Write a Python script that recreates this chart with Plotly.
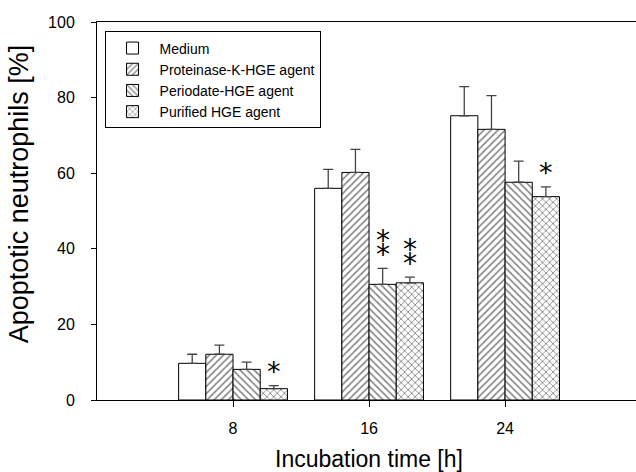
import plotly.graph_objects as go

times = [8, 16, 24]
tick_labels = ["8", "16", "24"]
series_names = ["Medium", "Proteinase-K-HGE agent", "Periodate-HGE agent", "Purified HGE agent"]
medium = [9.7, 56.0, 75.2]
proteinase = [12.1, 60.2, 71.6]
periodate = [8.1, 30.6, 57.6]
purified = [3.0, 31.0, 53.8]
medium_err = [2.4, 5.0, 7.7]
proteinase_err = [2.4, 6.1, 8.9]
periodate_err = [1.9, 4.2, 5.6]
purified_err = [0.8, 1.5, 2.6]
patterns = ["", "/", "\\", "x"]

# significance markers: (time, series index, label)
sig_time = [8, 16, 16, 24]
sig_series = [3, 2, 3, 3]
sig_label = ["*", "⁑", "⁑", "*"]

values = [medium, proteinase, periodate, purified]
errors = [medium_err, proteinase_err, periodate_err, purified_err]

FONT = "Liberation Sans, Arial, Helvetica"
STAR_FONT = "DejaVu Sans"

fig = go.Figure()
for name, v, e, p in zip(series_names, values, errors, patterns):
    fig.add_trace(go.Bar(
        x=times, y=v, name=name,
        marker=dict(color="white", line=dict(color="black", width=1),
                    pattern=dict(shape=p, fgcolor="black", bgcolor="white", size=5, solidity=0.3)),
        error_y=dict(type="data", symmetric=False, array=e, arrayminus=[0]*len(e),
                     color="#444", thickness=1.3, width=5),
    ))

# asterisk annotations placed above the error bars
group_w = 8 * 0.8
bar_w = group_w / 4
for t, si, lab in zip(sig_time, sig_series, sig_label):
    idx = times.index(t)
    xpos = t - group_w / 2 + bar_w * (si + 0.5)
    top = values[si][idx] + errors[si][idx]
    single = lab == "*"
    fig.add_annotation(x=xpos, y=top, yshift=14 if single else 22, text=lab,
                       showarrow=False, yanchor="middle",
                       font=dict(size=27 if single else 28, color="black", family=STAR_FONT))

# axis titles
fig.add_annotation(xref="paper", yref="paper", x=0.5046, y=-0.156,
                   text="Incubation time [h]", showarrow=False,
                   xanchor="center", yanchor="middle",
                   font=dict(size=23, color="black", family=FONT))
fig.add_annotation(xref="paper", yref="paper", x=-0.144, y=0.545,
                   text="Apoptotic neutrophils [%]", showarrow=False, textangle=-90,
                   xanchor="center", yanchor="middle",
                   font=dict(size=27, color="black", family=FONT))

fig.update_layout(
    width=636, height=472,
    margin=dict(l=97, r=0, t=22, b=72),
    paper_bgcolor="white", plot_bgcolor="white",
    barmode="group", bargap=0.2, bargroupgap=0,
    font=dict(family=FONT, size=16, color="black"),
    showlegend=True,
    legend=dict(x=0.014, y=0.975, xanchor="left", yanchor="top",
                bordercolor="black", borderwidth=1, bgcolor="white",
                font=dict(size=14), tracegroupgap=0, itemwidth=44),
    xaxis=dict(range=[0, 31.7], tickvals=times, ticktext=tick_labels,
               showline=True, linecolor="black", linewidth=1, mirror=True,
               ticks="outside", ticklen=6, tickcolor="black", ticklabelstandoff=8,
               showgrid=False, zeroline=False),
    yaxis=dict(range=[0, 100], tickvals=[0, 20, 40, 60, 80, 100],
               showline=True, linecolor="black", linewidth=1,
               ticks="outside", ticklen=5, tickcolor="black", ticklabelstandoff=13,
               showgrid=False, zeroline=False),
)

fig.write_html("out.html")
